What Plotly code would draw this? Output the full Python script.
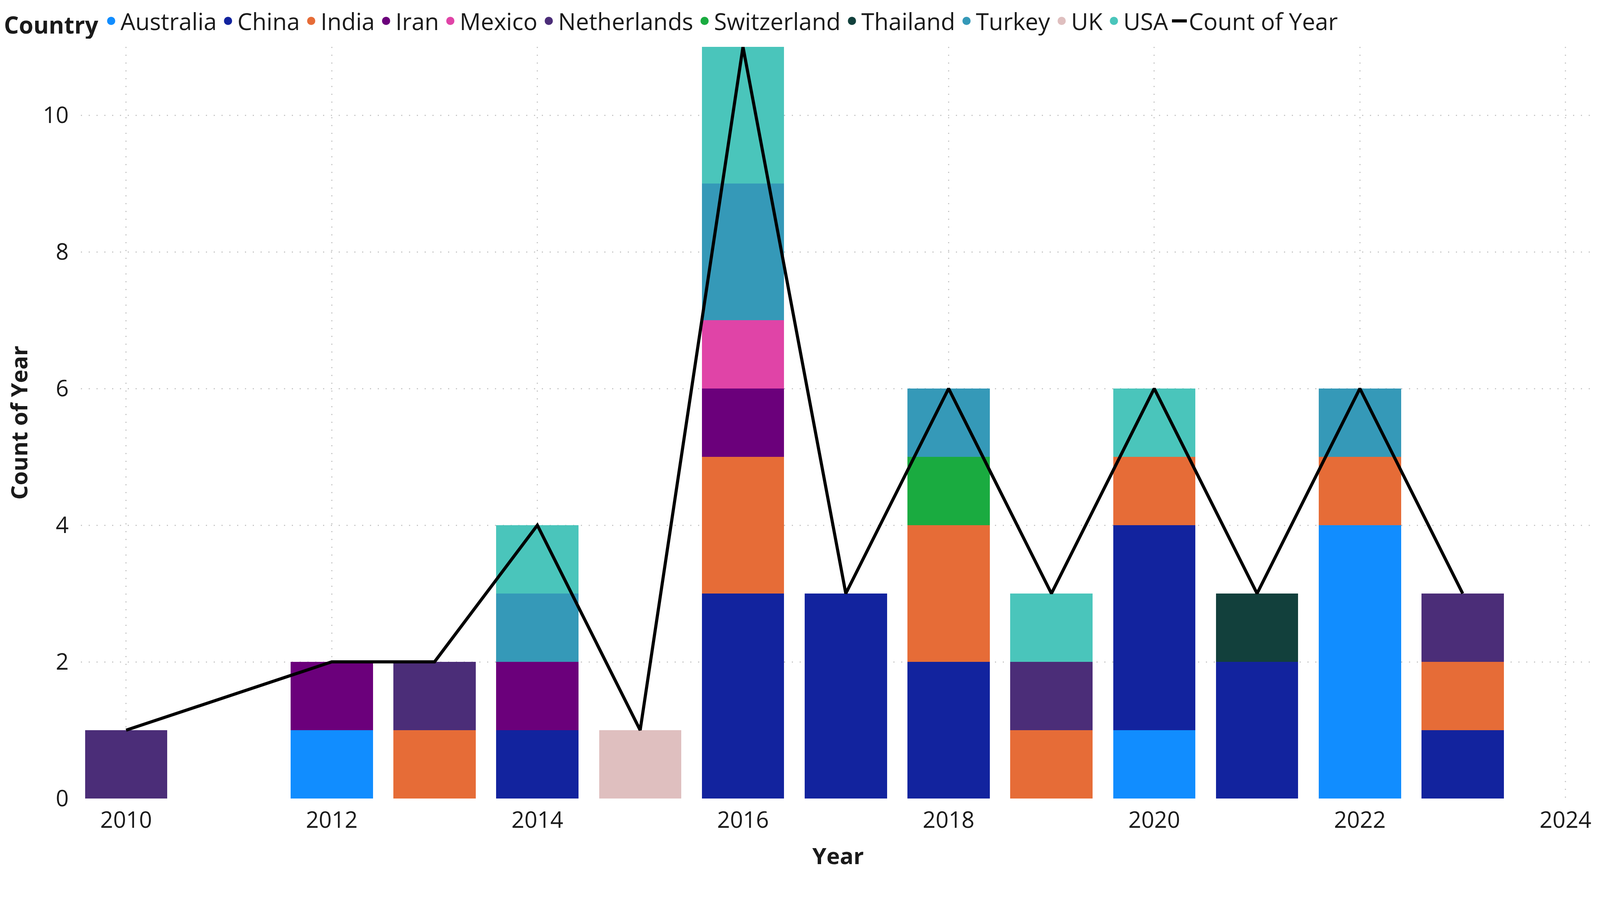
import plotly.graph_objects as go

years = [2010, 2012, 2013, 2014, 2015, 2016, 2017, 2018, 2019, 2020, 2021, 2022, 2023]

countries = ["Australia", "China", "India", "Iran", "Mexico", "Netherlands",
             "Switzerland", "Thailand", "Turkey", "UK", "USA"]

colors = ["#118DFF", "#12239E", "#E66C37", "#6B007B", "#E044A7", "#4B2D78",
          "#1AAB40", "#12403C", "#3599B8", "#DFBFBF", "#4AC5BB"]

# counts per country, aligned with `years`
australia   = [0, 1, 0, 0, 0, 0, 0, 0, 0, 1, 0, 4, 0]
china       = [0, 0, 0, 1, 0, 3, 3, 2, 0, 3, 2, 0, 1]
india       = [0, 0, 1, 0, 0, 2, 0, 2, 1, 1, 0, 1, 1]
iran        = [0, 1, 0, 1, 0, 1, 0, 0, 0, 0, 0, 0, 0]
mexico      = [0, 0, 0, 0, 0, 1, 0, 0, 0, 0, 0, 0, 0]
netherlands = [1, 0, 1, 0, 0, 0, 0, 0, 1, 0, 0, 0, 1]
switzerland = [0, 0, 0, 0, 0, 0, 0, 1, 0, 0, 0, 0, 0]
thailand    = [0, 0, 0, 0, 0, 0, 0, 0, 0, 0, 1, 0, 0]
turkey      = [0, 0, 0, 1, 0, 2, 0, 1, 0, 0, 0, 1, 0]
uk          = [0, 0, 0, 0, 1, 0, 0, 0, 0, 0, 0, 0, 0]
usa         = [0, 0, 0, 1, 0, 2, 0, 0, 1, 1, 0, 0, 0]

series = [australia, china, india, iran, mexico, netherlands,
          switzerland, thailand, turkey, uk, usa]

totals = [sum(v) for v in zip(*series)]

FONT = "Segoe UI, Open Sans, Noto Sans, sans-serif"
FS = 58
LFS = 60
TXT = "#1A1A1A"

fig = go.Figure()

for name, col, vals in zip(countries, colors, series):
    xs = [y for y, v in zip(years, vals) if v > 0]
    ys = [v for v in vals if v > 0]
    fig.add_trace(go.Bar(
        x=xs, y=ys, name=name, marker=dict(color=col, line=dict(width=0)),
        width=0.8, showlegend=False, legendgroup=name,
    ))
    # legend entry with circle marker (Power BI style)
    fig.add_trace(go.Scatter(
        x=[None], y=[None], mode="markers", name=name, legendgroup=name,
        marker=dict(symbol="circle", size=16, color=col, line=dict(width=5, color=col)),
    ))

fig.add_trace(go.Scatter(
    x=years, y=totals, mode="lines", name="Count of Year",
    line=dict(color="black", width=8),
))

grid = dict(showgrid=True, gridcolor="#C8C8C8", gridwidth=3, griddash="3px,17px")

fig.update_layout(
    width=4080, height=2222,
    barmode="stack",
    paper_bgcolor="white", plot_bgcolor="white",
    font=dict(family=FONT, size=FS, color=TXT),
    margin=dict(l=199, r=4, t=112, b=185, autoexpand=False),
    legend=dict(
        orientation="h", xref="container", yref="container",
        x=0.0, xanchor="left", y=1.0, yanchor="top",
        title=dict(text="Country", font=dict(family=FONT, size=LFS, weight="bold", color=TXT)),
        font=dict(family=FONT, size=LFS, color=TXT),
        itemwidth=38, tracegroupgap=0, traceorder="normal",
        bgcolor="rgba(0,0,0,0)", borderwidth=0,
    ),
    xaxis=dict(
        range=[2009.56, 2024.29], tickmode="linear", tick0=2010, dtick=2,
        zeroline=False, showline=False, ticks="", ticklabelstandoff=16,
        automargin=False,
        tickfont=dict(family=FONT, size=FS, color=TXT),
        title=dict(text="Year", font=dict(family=FONT, size=FS, weight="bold", color=TXT), standoff=60),
        **grid,
    ),
    yaxis=dict(
        range=[0, 11], tickmode="linear", tick0=0, dtick=2,
        zeroline=False, showline=False, ticks="", ticklabelstandoff=30,
        automargin=False,
        tickfont=dict(family=FONT, size=FS, color=TXT),
        title=dict(text="Count of Year", font=dict(family=FONT, size=FS, weight="bold", color=TXT), standoff=50),
        **grid,
    ),
)

fig.write_html("out.html")
